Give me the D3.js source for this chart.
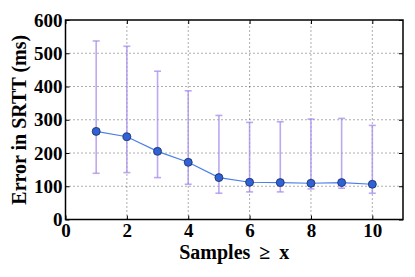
<!DOCTYPE html>
<html>
<head>
<meta charset="utf-8">
<script src="https://cdn.jsdelivr.net/npm/d3@7"></script>
<style>
  body { margin: 0; background: #fff; }
</style>
</head>
<body>
<div id="chart"></div>
<script>
const samples = [1, 2, 3, 4, 5, 6, 7, 8, 9, 10];
const meanError = [265, 249, 205, 172, 126, 112, 111, 109, 111, 106];
const upperError = [537, 521, 446, 387, 313, 292, 294, 302, 304, 283];
const lowerError = [139, 141, 126, 106, 79, 83, 83, 92, 94, 79];
const xTicks = [0, 2, 4, 6, 8, 10];
const yTicks = [0, 100, 200, 300, 400, 500, 600];

const width = 415;
const height = 277;
const margin = { top: 20, right: 12, bottom: 57.5, left: 65.5 };
const serif = '"Liberation Serif"';

const svg = d3.select('#chart').append('svg').attr('width', width).attr('height', height);

const x = d3.scaleLinear().domain([0, 11]).range([margin.left, width - margin.right]);
const y = d3.scaleLinear().domain([0, 600]).range([height - margin.bottom, margin.top]);

// grid
svg.append('g')
  .selectAll('line')
  .data(xTicks.filter((d) => d > 0))
  .join('line')
  .attr('x1', (d) => x(d)).attr('x2', (d) => x(d))
  .attr('y1', y(0)).attr('y2', y(600))
  .attr('stroke', '#333').attr('stroke-width', 0.8).attr('stroke-dasharray', '1,3');

svg.append('g')
  .selectAll('line')
  .data(yTicks.filter((d) => d > 0 && d < 600))
  .join('line')
  .attr('x1', x(0)).attr('x2', x(11))
  .attr('y1', (d) => y(d)).attr('y2', (d) => y(d))
  .attr('stroke', '#333').attr('stroke-width', 0.8).attr('stroke-dasharray', '1,3');

// axes with inward ticks
const axisStyle = (g) => {
  g.attr('font-family', null).attr('font-size', null);
  g.select('.domain').remove();
  g.selectAll('text')
    .style('font-family', serif).style('font-weight', 'bold').style('font-size', '19px')
    .attr('fill', '#000');
  g.selectAll('line').attr('stroke', '#000');
};

svg.append('g')
  .attr('transform', `translate(0,${y(0)})`)
  .call(d3.axisBottom(x).tickValues(xTicks).tickSize(-4).tickPadding(4))
  .call(axisStyle);

svg.append('g')
  .attr('transform', `translate(0,${y(600)})`)
  .call(d3.axisTop(x).tickValues(xTicks).tickSize(-4).tickFormat(''))
  .call(axisStyle);

svg.append('g')
  .attr('transform', `translate(${x(0)},0)`)
  .call(d3.axisLeft(y).tickValues(yTicks).tickSize(-4).tickPadding(3))
  .call(axisStyle);

svg.append('g')
  .attr('transform', `translate(${x(11)},0)`)
  .call(d3.axisRight(y).tickValues(yTicks).tickSize(-4).tickFormat(''))
  .call(axisStyle);

// frame
svg.append('rect')
  .attr('x', x(0)).attr('y', y(600))
  .attr('width', x(11) - x(0)).attr('height', y(0) - y(600))
  .attr('fill', 'none').attr('stroke', '#000').attr('stroke-width', 1.5);

// error bars
const rows = samples.map((s, i) => ({ s, m: meanError[i], hi: upperError[i], lo: lowerError[i] }));
const err = svg.append('g').attr('stroke', '#a58cea').attr('stroke-opacity', 0.75).attr('stroke-width', 1.6);
err.selectAll('.bar').data(rows).join('line')
  .attr('x1', (d) => x(d.s)).attr('x2', (d) => x(d.s))
  .attr('y1', (d) => y(d.lo)).attr('y2', (d) => y(d.hi));
err.selectAll('.capHi').data(rows).join('line')
  .attr('x1', (d) => x(d.s) - 3.5).attr('x2', (d) => x(d.s) + 3.5)
  .attr('y1', (d) => y(d.hi)).attr('y2', (d) => y(d.hi));
err.selectAll('.capLo').data(rows).join('line')
  .attr('x1', (d) => x(d.s) - 3.5).attr('x2', (d) => x(d.s) + 3.5)
  .attr('y1', (d) => y(d.lo)).attr('y2', (d) => y(d.lo));

// mean line
const line = d3.line().x((d) => x(d.s)).y((d) => y(d.m));
svg.append('path').datum(rows)
  .attr('d', line).attr('fill', 'none').attr('stroke', '#4a7fe8').attr('stroke-width', 1.2);

svg.append('g').selectAll('circle').data(rows).join('circle')
  .attr('cx', (d) => x(d.s)).attr('cy', (d) => y(d.m)).attr('r', 4)
  .attr('fill', '#2f62d6').attr('stroke', '#1a2a5a').attr('stroke-width', 0.8);

// labels
svg.append('text')
  .attr('x', (x(0) + x(11)) / 2).attr('y', 259)
  .attr('text-anchor', 'middle')
  .style('font-family', serif).style('font-weight', 'bold').style('font-size', '20px')
  .text('Samples \u2009≥\u2009 x');

svg.append('text')
  .attr('transform', `translate(26,${(y(0) + y(600)) / 2}) rotate(-90)`)
  .attr('text-anchor', 'middle')
  .style('font-family', serif).style('font-weight', 'bold').style('font-size', '20px')
  .text('Error in SRTT (ms)');
</script>
</body>
</html>
